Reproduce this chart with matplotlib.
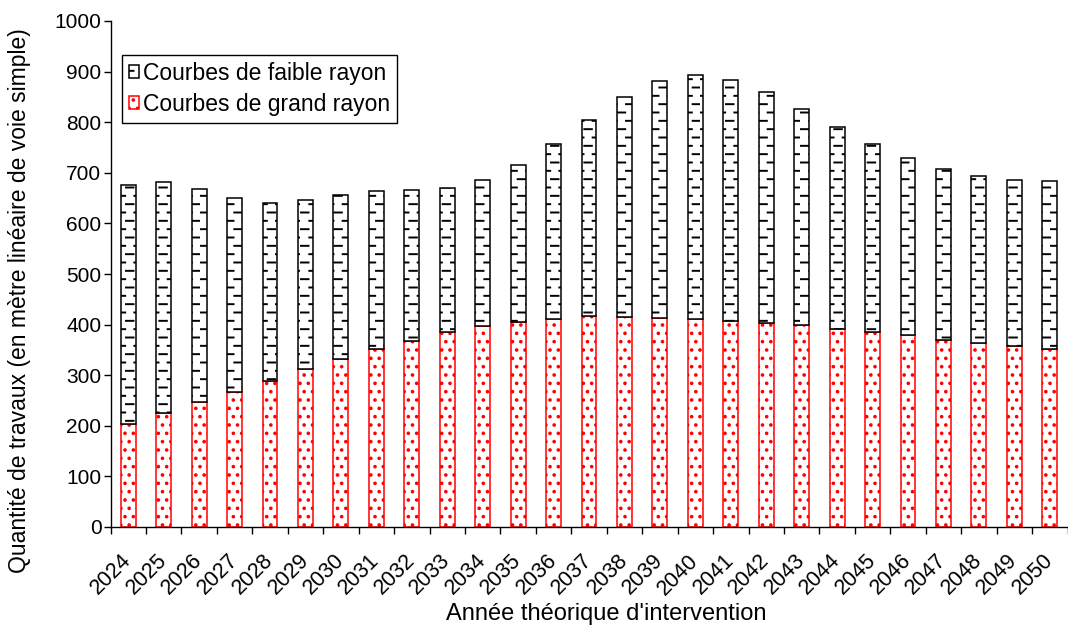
import numpy as np
import matplotlib
matplotlib.use("Agg")
import matplotlib.pyplot as plt
import matplotlib.hatch as mhatch
from matplotlib.path import Path

# ---------------- data ----------------
years = [str(y) for y in range(2024, 2051)]
grand_rayon = [204, 225, 247, 267, 289, 312, 332, 352, 368, 385, 397, 406, 412,
               417, 416, 414, 412, 408, 403, 399, 391, 385, 379, 370, 364, 357, 351]
total = [675, 682, 668, 650, 641, 646, 657, 664, 666, 670, 685, 715, 757,
         805, 850, 881, 893, 884, 860, 826, 790, 757, 730, 708, 693, 686, 684]
faible_rayon = [t - g for t, g in zip(total, grand_rayon)]
yticks = list(range(0, 1001, 100))

label_faible = "Courbes de faible rayon"
label_grand = "Courbes de grand rayon"
xlabel = "Année théorique d'intervention"
ylabel = "Quantité de travaux (en mètre linéaire de voie simple)"


# ---------------- custom dashed hatch (replaces '-') ----------------
class DashHatch(mhatch.HatchPatternBase):
    rows = 12
    cols = 6
    dash = 0.075

    def __init__(self, hatch, density):
        n = hatch.count('-')
        self.num_vertices = (self.rows * self.cols * 2) if n else 0

    def set_vertices_and_codes(self, vertices, codes):
        k = 0
        for i in range(self.rows):
            y = (i + 0.5) / self.rows
            off = 0.0 if i % 2 == 0 else 0.5 / self.cols
            for j in range(self.cols):
                x0 = j / self.cols + off + 0.01
                vertices[k] = (x0, y)
                vertices[k + 1] = (x0 + self.dash, y)
                codes[k] = Path.MOVETO
                codes[k + 1] = Path.LINETO
                k += 2


mhatch._hatch_types[mhatch._hatch_types.index(mhatch.HorizontalHatch)] = DashHatch

plt.rcParams['font.family'] = ['Liberation Sans', 'DejaVu Sans']
plt.rcParams['hatch.linewidth'] = 1.4

fig = plt.figure(figsize=(10.68, 6.26), dpi=100)
ax = fig.add_axes([110.5 / 1068, 1 - 527 / 626, (1067.5 - 110.5) / 1068, (527 - 21) / 626])

x = np.arange(len(years))
w = 0.42
b1 = ax.bar(x, grand_rayon, width=w, color='white', edgecolor='#ff0000',
            hatch='..', linewidth=1.1, label=label_grand, zorder=2)
b2 = ax.bar(x, faible_rayon, width=w, bottom=grand_rayon, color='white',
            edgecolor='black', hatch='-', linewidth=1.1, label=label_faible, zorder=2)

ax.set_xlim(-0.5, len(years) - 0.5)
ax.set_ylim(0, 1000)
ax.set_yticks(yticks)
ax.tick_params(axis='y', direction='out', length=5, width=1, labelsize=15, pad=1.5)

ax.set_xticks(x)
ax.set_xticklabels(years, rotation=45, ha='right', va='center',
                   rotation_mode='anchor', fontsize=15.5)
ax.set_xticks(np.arange(-0.5, len(years), 1.0), minor=True)
ax.tick_params(axis='x', which='major', length=0, pad=22)
ax.tick_params(axis='x', which='minor', direction='out', length=5, width=1)

for s in ['top', 'right']:
    ax.spines[s].set_visible(False)
for s in ['left', 'bottom']:
    ax.spines[s].set_linewidth(1.0)
    ax.spines[s].set_color('black')

ax.set_xlabel(xlabel, fontsize=17)
ax.xaxis.set_label_coords((607 - 110.5) / 957.5, (527 - 603) / 506)
ax.set_ylabel(ylabel, fontsize=16.5)
ax.yaxis.set_label_coords((31 - 110.5) / 957.5, (527 - 301) / 506)

leg = ax.legend(handles=[b2, b1], loc='upper left', bbox_to_anchor=(0.012, 0.933),
                fontsize=16.5, frameon=True, fancybox=False, framealpha=1,
                edgecolor='black', handlelength=0.45, handleheight=0.5,
                handletextpad=0.15, borderpad=0.3, labelspacing=0.35, borderaxespad=0)
leg.get_frame().set_linewidth(1.0)

fig.savefig('out.png', dpi=100)
